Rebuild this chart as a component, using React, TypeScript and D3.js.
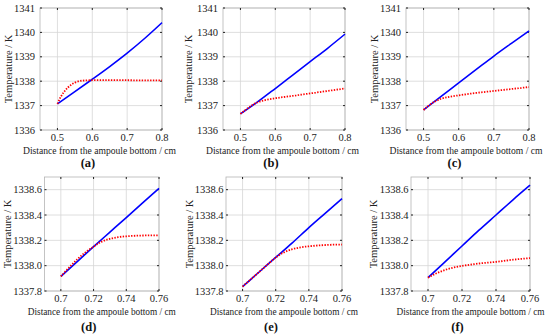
import { useEffect, useRef } from 'react';
import * as d3 from 'd3';

// x positions (cm) of the sampled points
const xTopBlue = [0.5, 0.55, 0.6, 0.65, 0.7, 0.75, 0.8];
const xTopRed = [0.5, 0.51, 0.52, 0.53, 0.54, 0.55, 0.57, 0.6, 0.65, 0.7, 0.75, 0.8];
const xBotBlue = [0.7, 0.71, 0.72, 0.73, 0.74, 0.75, 0.76];
const xBotRed = [0.7, 0.705, 0.71, 0.715, 0.72, 0.725, 0.73, 0.735, 0.74, 0.75, 0.76];

// temperatures (K)
const aBlue = [1337.07, 1337.57, 1338.08, 1338.6, 1339.15, 1339.75, 1340.4];
const aRed = [1337.07, 1337.37, 1337.58, 1337.74, 1337.86, 1337.94, 1338.02, 1338.04, 1338.04, 1338.04, 1338.03, 1338.03];
const bBlue = [1336.66, 1337.16, 1337.7, 1338.25, 1338.8, 1339.35, 1339.93];
const bRed = [1336.66, 1336.77, 1336.88, 1336.98, 1337.07, 1337.14, 1337.22, 1337.3, 1337.4, 1337.5, 1337.6, 1337.7];
const cBlue = [1336.82, 1337.38, 1337.93, 1338.48, 1339.03, 1339.55, 1340.06];
const cRed = [1336.82, 1336.95, 1337.06, 1337.15, 1337.22, 1337.28, 1337.35, 1337.42, 1337.52, 1337.6, 1337.68, 1337.76];
const dBlue = [1337.915, 1338.032, 1338.15, 1338.265, 1338.38, 1338.495, 1338.61];
const dRed = [1337.915, 1337.985, 1338.05, 1338.105, 1338.15, 1338.19, 1338.212, 1338.225, 1338.232, 1338.238, 1338.24];
const eBlue = [1337.835, 1337.95, 1338.065, 1338.18, 1338.3, 1338.415, 1338.53];
const eRed = [1337.835, 1337.893, 1337.95, 1338.008, 1338.065, 1338.105, 1338.13, 1338.145, 1338.153, 1338.163, 1338.167];
const fBlue = [1337.905, 1338.03, 1338.155, 1338.28, 1338.4, 1338.52, 1338.635];
const fRed = [1337.905, 1337.94, 1337.966, 1337.985, 1337.998, 1338.008, 1338.017, 1338.024, 1338.03, 1338.047, 1338.06];

// ticks
const xTicksTop = [0.5, 0.6, 0.7, 0.8];
const yTicksTop = [1336, 1337, 1338, 1339, 1340, 1341];
const xTicksBot = [0.7, 0.72, 0.74, 0.76];
const yTicksBot = [1337.8, 1338.0, 1338.2, 1338.4, 1338.6];

const xLabel = 'Distance from the ampoule bottom / cm';
const yLabel = 'Temperature / K';

const FONT = 'Liberation Serif, Times New Roman, serif';

export default function App() {
  const svgRef = useRef<SVGSVGElement>(null);

  useEffect(() => {
    const svg = d3.select(svgRef.current);
    svg.selectAll('*').remove();

    const top = { xDom: [0.45, 0.8], yDom: [1336, 1341], xTicks: xTicksTop, yTicks: yTicksTop, xFmt: d3.format('.1f'), yFmt: d3.format('d'), xb: xTopBlue, xr: xTopRed, gap: 5, xlOff: -1.5, xlLen: 153 };
    const bot = { xDom: [0.69, 0.76], yDom: [1337.8, 1338.7], xTicks: xTicksBot, yTicks: yTicksBot, xFmt: d3.format('~g'), yFmt: d3.format('.1f'), xb: xBotBlue, xr: xBotRed, gap: 2.5, xlOff: 0, xlLen: 148 };

    const panels = [
      { tag: '(a)', row: top, blue: aBlue, red: aRed, l: 40, r: 162, t: 8, b: 130, yl: 8, lab: 167 },
      { tag: '(b)', row: top, blue: bBlue, red: bRed, l: 223, r: 345, t: 8, b: 130, yl: 188, lab: 167 },
      { tag: '(c)', row: top, blue: cBlue, red: cRed, l: 406, r: 529, t: 8, b: 130, yl: 374, lab: 167 },
      { tag: '(d)', row: bot, blue: dBlue, red: dRed, l: 44.5, r: 159, t: 177, b: 291, yl: 7, lab: 331 },
      { tag: '(e)', row: bot, blue: eBlue, red: eRed, l: 226, r: 342, t: 177, b: 291, yl: 189, lab: 331 },
      { tag: '(f)', row: bot, blue: fBlue, red: fRed, l: 411, r: 530, t: 177, b: 291, yl: 373, lab: 331 },
    ];

    panels.forEach(p => {
      const x = d3.scaleLinear().domain(p.row.xDom).range([p.l, p.r]);
      const y = d3.scaleLinear().domain(p.row.yDom).range([p.b, p.t]);
      const g = svg.append('g').style('font-family', FONT);

      // grid
      g.selectAll('.gx').data(p.row.xTicks).enter().append('line')
        .attr('x1', d => x(d)).attr('x2', d => x(d)).attr('y1', p.t).attr('y2', p.b)
        .attr('stroke', '#d6d6d6').attr('stroke-width', 0.8);
      g.selectAll('.gy').data(p.row.yTicks).enter().append('line')
        .attr('x1', p.l).attr('x2', p.r).attr('y1', d => y(d)).attr('y2', d => y(d))
        .attr('stroke', '#d6d6d6').attr('stroke-width', 0.8);

      // box
      g.append('rect').attr('x', p.l).attr('y', p.t).attr('width', p.r - p.l).attr('height', p.b - p.t)
        .attr('fill', 'none').attr('stroke', '#b5b5b5').attr('stroke-width', 0.8);

      // inward ticks on all sides
      p.row.xTicks.forEach(v => {
        g.append('line').attr('x1', x(v)).attr('x2', x(v)).attr('y1', p.b).attr('y2', p.b - 2).attr('stroke', '#222').attr('stroke-width', 1);
        g.append('line').attr('x1', x(v)).attr('x2', x(v)).attr('y1', p.t).attr('y2', p.t + 2).attr('stroke', '#222').attr('stroke-width', 1);
      });
      p.row.yTicks.forEach(v => {
        g.append('line').attr('x1', p.l).attr('x2', p.l + 2).attr('y1', y(v)).attr('y2', y(v)).attr('stroke', '#222').attr('stroke-width', 1);
        g.append('line').attr('x1', p.r).attr('x2', p.r - 2).attr('y1', y(v)).attr('y2', y(v)).attr('stroke', '#222').attr('stroke-width', 1);
      });

      // tick labels
      g.selectAll('.tx').data(p.row.xTicks).enter().append('text')
        .attr('x', d => x(d)).attr('y', p.b + 11)
        .attr('text-anchor', 'middle').attr('font-size', 10.5).attr('fill', '#222')
        .text(d => p.row.xFmt(d));
      g.selectAll('.ty').data(p.row.yTicks).enter().append('text')
        .attr('x', p.l - p.row.gap).attr('y', d => y(d) + 3.5)
        .attr('text-anchor', 'end').attr('font-size', 10.5).attr('fill', '#222')
        .text(d => p.row.yFmt(d));

      // axis labels
      g.append('text').attr('x', (p.l + p.r) / 2 + p.row.xlOff).attr('y', p.b + 23.5)
        .attr('text-anchor', 'middle').attr('font-size', 9.5).attr('fill', '#222')
        .attr('textLength', p.row.xlLen).attr('lengthAdjust', 'spacingAndGlyphs')
        .text(xLabel);
      g.append('text').attr('transform', `translate(${p.yl + 3.5}, ${(p.t + p.b) / 2}) rotate(-90)`)
        .attr('text-anchor', 'middle').attr('font-size', 10.5).attr('fill', '#222')
        .text(yLabel);
      g.append('text').attr('x', (p.l + p.r) / 2 - 13).attr('y', p.lab)
        .attr('text-anchor', 'middle').attr('font-size', 12.5).attr('font-weight', 'bold').attr('fill', '#111')
        .text(p.tag);

      // series
      const line = d3.line<[number, number]>().x(d => x(d[0])).y(d => y(d[1])).curve(d3.curveMonotoneX);
      const bluePts = p.row.xb.map((v, i) => [v, p.blue[i]] as [number, number]);
      const redPts = p.row.xr.map((v, i) => [v, p.red[i]] as [number, number]);
      g.append('path').attr('d', line(bluePts)).attr('fill', 'none').attr('stroke', '#0000ff').attr('stroke-width', 1.6);
      g.append('path').attr('d', line(redPts)).attr('fill', 'none').attr('stroke', '#ff0000').attr('stroke-width', 1.8)
        .attr('stroke-dasharray', '1.4 1.4');
    });
  }, []);

  return (
    <svg ref={svgRef} width={550} height={334} style={{ position: 'absolute', left: 0, top: 0, background: '#fff' }} />
  );
}
